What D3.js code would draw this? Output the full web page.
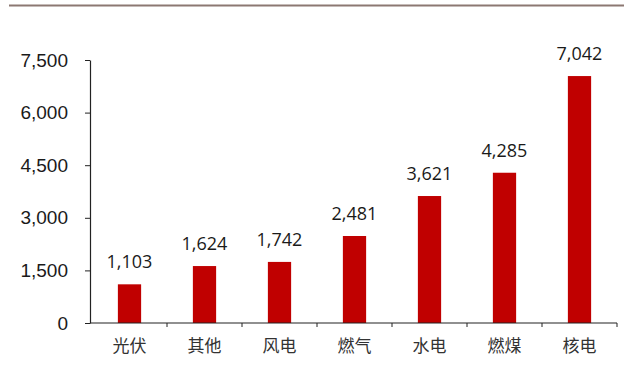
<!DOCTYPE html>
<html>
<head>
<meta charset="utf-8">
<script src="https://cdn.jsdelivr.net/npm/d3@7"></script>
<style>
  body { margin: 0; background: #fff; }
  svg { display: block; }
</style>
</head>
<body>
<div id="chart"></div>
<script>
// categories and values
const categories = ["光伏", "其他", "风电", "燃气", "水电", "燃煤", "核电"];
const values = [1103, 1624, 1742, 2481, 3621, 4285, 7042];
const yTicks = [0, 1500, 3000, 4500, 6000, 7500];

const width = 628, height = 382;
const margin = { top: 60, right: 11, bottom: 59, left: 90 };

const svg = d3.select("#chart").append("svg")
  .attr("width", width)
  .attr("height", height);

// top rule
svg.append("line")
  .attr("x1", 9).attr("x2", 624)
  .attr("y1", 5.5).attr("y2", 5.5)
  .attr("stroke", "#8c7872")
  .attr("stroke-width", 2);

const x = d3.scaleBand()
  .domain(categories)
  .range([margin.left + 2, width - margin.right])
  .paddingInner(0.69)
  .paddingOuter(0.345);

const y = d3.scaleLinear()
  .domain([0, 7500])
  .range([height - margin.bottom, margin.top]);

// bars
svg.selectAll("rect.bar")
  .data(values)
  .join("rect")
  .attr("class", "bar")
  .attr("x", (d, i) => x(categories[i]))
  .attr("y", d => y(d))
  .attr("width", x.bandwidth())
  .attr("height", d => y(0) - y(d))
  .attr("fill", "#c00000");

// value labels
svg.selectAll("text.val")
  .data(values)
  .join("text")
  .attr("class", "val")
  .attr("x", (d, i) => x(categories[i]) + x.bandwidth() / 2)
  .attr("y", d => y(d) - 16)
  .attr("text-anchor", "middle")
  .attr("font-family", "'Open Sans', sans-serif")
  .attr("font-size", 18)
  .attr("fill", "#1a1a1a")
  .text(d => d3.format(",")(d));

// y axis
const yAxis = svg.append("g")
  .attr("transform", `translate(${margin.left},0)`)
  .call(d3.axisLeft(y).tickValues(yTicks).tickFormat(d3.format(",")).tickSize(5).tickSizeOuter(0));
yAxis.select(".domain").attr("stroke", "#222").attr("stroke-width", 1.2);
yAxis.selectAll(".tick line").attr("stroke", "#222");
yAxis.selectAll(".tick text")
  .attr("x", -22)
  .attr("font-family", "'Liberation Sans', Arial, sans-serif")
  .attr("font-size", 19)
  .attr("fill", "#1a1a1a");

// x axis with ticks between categories
const xAxisG = svg.append("g")
  .attr("transform", `translate(0,${y(0)})`);
xAxisG.append("line")
  .attr("x1", margin.left).attr("x2", width - margin.right)
  .attr("stroke", "#222").attr("stroke-width", 1.2);
const step = x.step();
xAxisG.selectAll("line.sep")
  .data(categories.slice(1).concat(["end"]))
  .join("line")
  .attr("class", "sep")
  .attr("x1", (d, i) => margin.left + 2 + step * (i + 1))
  .attr("x2", (d, i) => margin.left + 2 + step * (i + 1))
  .attr("y1", 0).attr("y2", 4)
  .attr("stroke", "#222");
xAxisG.selectAll("text")
  .data(categories)
  .join("text")
  .attr("x", d => x(d) + x.bandwidth() / 2)
  .attr("y", 29)
  .attr("text-anchor", "middle")
  .attr("font-family", "'Noto Sans CJK SC', sans-serif")
  .attr("font-size", 17)
  .attr("fill", "#333")
  .text(d => d);
</script>
</body>
</html>
